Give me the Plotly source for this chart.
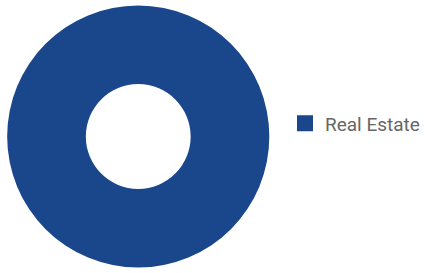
import plotly.graph_objects as go

labels = ["Real Estate"]
values = [100]
colors = ["#1a478c"]

fig = go.Figure()
fig.add_trace(go.Pie(
    labels=labels, values=values, hole=0.4,
    marker=dict(colors=colors, line=dict(width=0)),
    textinfo="none", hoverinfo="label+percent", sort=False,
    showlegend=False,
    domain=dict(x=[7.5/425, 280.5/425], y=[0, 1]),
))
# legend entry with a larger square swatch, same label/colour as the slice
for lab, col in zip(labels, colors):
    fig.add_trace(go.Scatter(
        x=[None], y=[None], mode="markers", name=lab,
        marker=dict(symbol="square", size=16, color=col),
        showlegend=True, hoverinfo="skip",
    ))
fig.update_layout(
    width=425, height=273, margin=dict(l=0, r=0, t=0, b=0),
    paper_bgcolor="white", plot_bgcolor="white",
    showlegend=True,
    xaxis=dict(visible=False), yaxis=dict(visible=False),
    legend=dict(x=297/425, y=1 - 123.5/273, xanchor="left", yanchor="middle",
                itemsizing="trace",
                font=dict(family="Roboto", size=19, color="#666666")),
)
fig.write_html("out.html", config={"displayModeBar": False},
               post_script="document.body.style.margin='0';")
